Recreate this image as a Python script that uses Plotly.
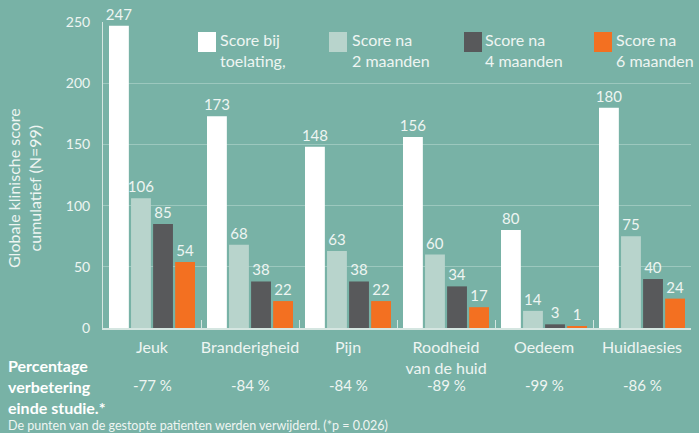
import plotly.graph_objects as go

categories = ["Jeuk", "Branderigheid", "Pijn", "Roodheid<br>van de huid", "Oedeem", "Huidlaesies"]
series_names = ["Score bij<br>toelating,", "Score na<br>2 maanden", "Score na<br>4 maanden", "Score na<br>6 maanden"]
score_admission = [247, 173, 148, 156, 80, 180]
score_2m = [106, 68, 63, 60, 14, 75]
score_4m = [85, 38, 38, 34, 3, 40]
score_6m = [54, 22, 22, 17, 1, 24]
improvement = ["-77 %", "-84 %", "-84 %", "-89 %", "-99 %", "-86 %"]
y_ticks = [0, 50, 100, 150, 200, 250]

series_values = [score_admission, score_2m, score_4m, score_6m]
colors = ["#FFFFFF", "#B8D4CC", "#58595B", "#F37021"]

BG = "#78B2A6"
TXT = "#EEF5F2"
FONT = "Lato"

W, H = 699, 433
L, R, T, B = 103, 8, 22, 105
pw = W - L - R
ph = H - T - B

def px2x(px):
    return (px - L) / pw

def py2y(py):
    return (H - B - py) / ph

fig = go.Figure()
for name, vals, col in zip(series_names, series_values, colors):
    fig.add_trace(go.Bar(
        x=categories, y=vals, name=name, marker=dict(color=col, line=dict(width=0)),
        text=[str(v) for v in vals], textposition="outside", cliponaxis=False,
        constraintext="none", textfont=dict(family=FONT, size=15, color=TXT),
        showlegend=False,
    ))

# custom legend
leg_sq = [198, 329, 464, 594]
leg_tx = [220, 352, 485, 616]
shapes = []
annotations = []
for name, col, sx, tx in zip(series_names, colors, leg_sq, leg_tx):
    shapes.append(dict(type="rect", xref="paper", yref="paper",
                       x0=px2x(sx), x1=px2x(sx + 18), y0=py2y(52), y1=py2y(32),
                       fillcolor=col, line=dict(width=0), layer="above"))
    annotations.append(dict(text=name, xref="paper", yref="paper", x=px2x(tx - 2), y=py2y(28),
                            xanchor="left", yanchor="top", align="left", showarrow=False,
                            font=dict(family=FONT, size=16, color=TXT)))

# improvement row
for cat, pct in zip(categories, improvement):
    annotations.append(dict(text=pct, xref="x", yref="paper", x=cat, y=py2y(385),
                            xanchor="center", yanchor="middle", showarrow=False,
                            font=dict(family=FONT, size=15, color=TXT)))

annotations.append(dict(text="<b>Percentage<br>verbetering<br>einde studie.*</b>",
                        xref="paper", yref="paper", x=px2x(6), y=py2y(354),
                        xanchor="left", yanchor="top", align="left", showarrow=False,
                        font=dict(family=FONT, size=16, color="#FFFFFF")))
annotations.append(dict(text="De punten van de gestopte patienten werden verwijderd. (*p = 0.026)",
                        xref="paper", yref="paper", x=px2x(6), y=py2y(425),
                        xanchor="left", yanchor="middle", align="left", showarrow=False,
                        font=dict(family=FONT, size=12.5, color=TXT)))
annotations.append(dict(text="Globale klinische score<br>cumulatief (N=99)",
                        xref="paper", yref="paper", x=px2x(24), y=py2y(188),
                        xanchor="center", yanchor="middle", textangle=-90, showarrow=False,
                        font=dict(family=FONT, size=16, color=TXT)))

fig.update_layout(
    width=W, height=H,
    margin=dict(l=L, r=R, t=T, b=B, autoexpand=False),
    paper_bgcolor=BG, plot_bgcolor=BG,
    barmode="group", bargap=0.1, bargroupgap=0.1,
    shapes=shapes, annotations=annotations,
    font=dict(family=FONT, color=TXT),
)
fig.update_xaxes(
    type="category", tickson="boundaries", ticks="inside", ticklen=8, tickcolor="#D5E6E1",
    tickwidth=1, showline=True, linecolor="#D5E6E1", linewidth=2, showgrid=False,
    tickfont=dict(family=FONT, size=16, color=TXT), ticklabelstandoff=4, tickangle=0,
    automargin=False,
)
fig.update_yaxes(
    range=[0, 250], tickvals=y_ticks, showgrid=True, gridcolor="#9CC8BE", gridwidth=1,
    showline=True, linecolor="#D5E6E1", linewidth=1, zeroline=False,
    tickfont=dict(family=FONT, size=14, color=TXT), ticks="", ticklabelstandoff=9,
    automargin=False,
)
fig.write_html("out.html", config={"displayModeBar": False},
               post_script="document.body.style.margin='0';document.body.style.overflow='hidden';")
